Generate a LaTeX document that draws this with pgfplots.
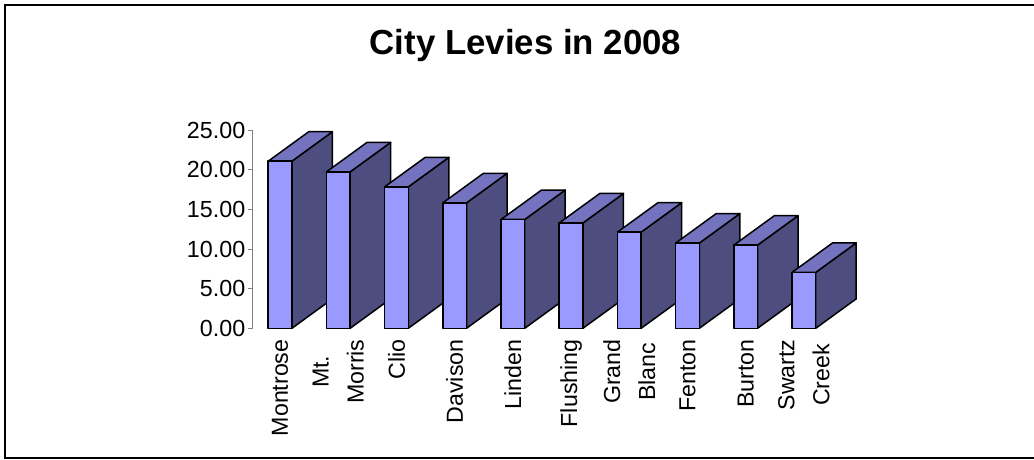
\documentclass[border=0pt]{standalone}
\usepackage{fontspec}
\setmainfont{Liberation Sans}
\usepackage{pgfplots}
\usepackage{pgfplotstable}
\pgfplotsset{compat=1.18}
\definecolor{frontc}{RGB}{153,153,255}
\definecolor{sidec}{RGB}{77,77,128}
\definecolor{topc}{RGB}{115,115,191}

\pgfplotstableread{
idx v
0 21.10
1 19.75
2 17.86
3 15.84
4 13.74
5 13.30
6 12.14
7 10.76
8 10.50
9 7.06
}\levies

\begin{document}
\begin{tikzpicture}
\useasboundingbox (0,0) rectangle (1034pt,460pt);
\draw[line width=2pt] (1040pt,454.7pt) -- (5.3pt,454.7pt) -- (5.3pt,1.7pt) -- (1040pt,1.7pt);
\node[font=\fontsize{34.8}{40}\selectfont\bfseries, anchor=base] at (525.5pt,405pt) {City Levies in 2008};
\begin{axis}[
  at={(252.5pt,131.7pt)}, anchor=south west,
  x=58.2pt, y=7.92pt,
  xmin=-0.474, xmax=10, ymin=0, ymax=25,
  clip=false,
  axis y line*=left, axis x line*=bottom,
  x axis line style={draw=none},
  y axis line style={draw=gray, line width=1pt},
  ytick={0,5,...,25},
  xtick={0,...,9},
  xticklabels={Montrose, {Mt.\\Morris}, Clio, Davison, Linden, Flushing, {Grand\\Blanc}, Fenton, Burton, {Swartz\\Creek}},
  tick align=outside,
  major tick length=5pt,
  xtick style={draw=none},
  ytick style={draw=gray, line width=1pt},
  /pgf/number format/assume math mode=true,
  yticklabel style={/pgf/number format/fixed, /pgf/number format/fixed zerofill, /pgf/number format/precision=2, font=\fontsize{23.3}{27}\selectfont, inner sep=2pt},
  xticklabel style={rotate=90, anchor=east, align=center, font=\fontsize{23.2}{35}\selectfont, inner sep=0pt},
  xticklabel shift={6pt},
]
\pgfplotsinvokeforeach{0,...,9}{
  \pgfplotstablegetelem{#1}{v}\of\levies
  \pgfmathsetmacro\vv{\pgfplotsretval}
  \pgfmathsetmacro\xl{#1-0.2035}
  \pgfmathsetmacro\xr{#1+0.2035}
  \pgfmathsetmacro\xlb{#1-0.2035+0.696}
  \pgfmathsetmacro\xrb{#1+0.2035+0.696}
  \pgfmathsetmacro\vt{\vv+3.72}
  \edef\cmd{%
    \noexpand\addplot[draw=black, line width=1.5pt, fill=sidec, line join=round] coordinates {(\xr,0) (\xrb,3.72) (\xrb,\vt) (\xr,\vv)} -- cycle;
    \noexpand\addplot[draw=black, line width=1.5pt, fill=topc, line join=round] coordinates {(\xl,\vv) (\xr,\vv) (\xrb,\vt) (\xlb,\vt)} -- cycle;
    \noexpand\addplot[draw=black, line width=1.5pt, fill=frontc, line join=round] coordinates {(\xl,0) (\xr,0) (\xr,\vv) (\xl,\vv)} -- cycle;
  }
  \cmd
}
\end{axis}
\end{tikzpicture}
\end{document}
